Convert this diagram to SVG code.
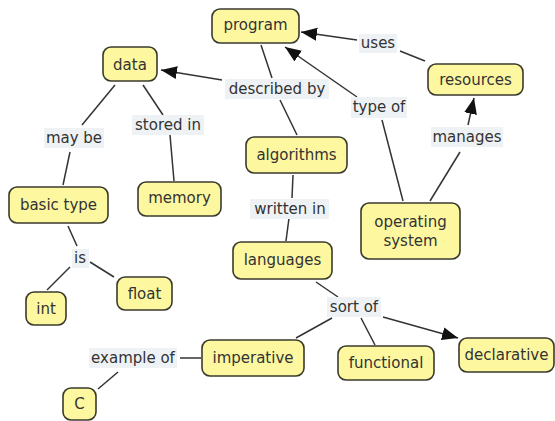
<svg xmlns="http://www.w3.org/2000/svg" width="555" height="421" viewBox="0 0 555 421">
  <style>
    .node rect { fill: #fdf8a0; stroke: #3a3a2c; stroke-width: 1.6; }
    text { font-family: "DejaVu Sans", Verdana, sans-serif; font-size: 15px; fill: #333; text-anchor: middle; }
    .lbl rect { fill: #eef2f5; stroke: none; }
    .conn line { stroke: #333; stroke-width: 1.5; fill: none; }
  </style>
  <defs>
    <marker id="arrow" markerUnits="userSpaceOnUse" markerWidth="17" markerHeight="14" refX="16" refY="6.5" orient="auto">
      <path d="M0,0 L16,6.5 L0,13 Z" fill="#111"/>
    </marker>
  </defs>
  <rect width="555" height="421" fill="#fff"/>

  <!-- connectors -->
  <g id="connectors" class="conn">
    <!-- program / algorithms -> described by -> data -->
    <line x1="261" y1="45" x2="272" y2="78"/>
    <line x1="280" y1="100" x2="297" y2="135"/>
    <line x1="222" y1="80" x2="161" y2="70" marker-end="url(#arrow)"/>
    <!-- resources -> uses -> program -->
    <line x1="425" y1="61" x2="400" y2="51"/>
    <line x1="357" y1="40" x2="301" y2="32" marker-end="url(#arrow)"/>
    <!-- operating system -> type of -> program -->
    <line x1="403" y1="201" x2="382" y2="120"/>
    <line x1="357" y1="97" x2="285" y2="47" marker-end="url(#arrow)"/>
    <!-- operating system -> manages -> resources -->
    <line x1="430" y1="201" x2="460" y2="152"/>
    <line x1="468" y1="125" x2="474" y2="98" marker-end="url(#arrow)"/>
    <!-- data -> may be -> basic type -->
    <line x1="115" y1="85" x2="82" y2="125"/>
    <line x1="70" y1="152" x2="63" y2="185"/>
    <!-- data -> stored in -> memory -->
    <line x1="143" y1="85" x2="163" y2="115"/>
    <line x1="170" y1="135" x2="174" y2="181"/>
    <!-- algorithms -> written in -> languages -->
    <line x1="293" y1="175" x2="292" y2="198"/>
    <line x1="289" y1="218" x2="286" y2="241"/>
    <!-- basic type -> is -> int / float -->
    <line x1="68" y1="226" x2="77" y2="246"/>
    <line x1="70" y1="267" x2="47" y2="290"/>
    <line x1="90" y1="262" x2="114" y2="277"/>
    <!-- languages -> sort of -> imperative / functional / declarative -->
    <line x1="316" y1="282" x2="338" y2="297"/>
    <line x1="332" y1="318" x2="296" y2="338"/>
    <line x1="361" y1="318" x2="375" y2="345"/>
    <line x1="383" y1="317" x2="458" y2="338" marker-end="url(#arrow)"/>
    <!-- imperative -> example of -> C -->
    <line x1="180" y1="358" x2="201" y2="358"/>
    <line x1="118" y1="372" x2="98" y2="389"/>
  </g>

  <!-- linking phrases -->
  <g id="lbl-described-by" class="lbl"><rect x="225" y="79" width="104" height="20"/><text x="277" y="94">described by</text></g>
  <g id="lbl-uses" class="lbl"><rect x="359" y="34" width="38" height="19"/><text x="378" y="48">uses</text></g>
  <g id="lbl-type-of" class="lbl"><rect x="351" y="97" width="56" height="21"/><text x="379" y="112">type of</text></g>
  <g id="lbl-manages" class="lbl"><rect x="431" y="127" width="72" height="20"/><text x="467" y="142">manages</text></g>
  <g id="lbl-may-be" class="lbl"><rect x="44" y="128" width="60" height="20"/><text x="74" y="143">may be</text></g>
  <g id="lbl-stored-in" class="lbl"><rect x="132" y="115" width="72" height="20"/><text x="168" y="130">stored in</text></g>
  <g id="lbl-written-in" class="lbl"><rect x="250" y="199" width="79" height="20"/><text x="290" y="214">written in</text></g>
  <g id="lbl-is" class="lbl"><rect x="72" y="249" width="17" height="19"/><text x="80" y="263">is</text></g>
  <g id="lbl-sort-of" class="lbl"><rect x="327" y="297" width="54" height="20"/><text x="354" y="312">sort of</text></g>
  <g id="lbl-example-of" class="lbl"><rect x="89" y="348" width="88" height="20"/><text x="133" y="363">example of</text></g>

  <!-- concepts -->
  <g id="program" class="node"><rect x="212" y="9" width="87" height="34" rx="8"/><text x="255.5" y="29.5">program</text></g>
  <g id="data" class="node"><rect x="103" y="47" width="54" height="34" rx="8"/><text x="130" y="70">data</text></g>
  <g id="basic-type" class="node"><rect x="9" y="187" width="99" height="36" rx="8"/><text x="58.5" y="210">basic type</text></g>
  <g id="memory" class="node"><rect x="138" y="182" width="83" height="34" rx="8"/><text x="179.5" y="203">memory</text></g>
  <g id="algorithms" class="node"><rect x="246" y="137" width="101" height="36" rx="8"/><text x="296.5" y="160">algorithms</text></g>
  <g id="resources" class="node"><rect x="428" y="64" width="95" height="31" rx="8"/><text x="475.5" y="84.5">resources</text></g>
  <g id="operating-system" class="node"><rect x="361" y="203" width="99" height="56" rx="8"/><text x="410.5" y="227">operating</text><text x="410.5" y="246">system</text></g>
  <g id="languages" class="node"><rect x="233" y="242" width="99" height="37" rx="8"/><text x="282.5" y="265">languages</text></g>
  <g id="int" class="node"><rect x="26" y="292" width="40" height="33" rx="8"/><text x="46" y="313.5">int</text></g>
  <g id="float" class="node"><rect x="117" y="277" width="55" height="33" rx="8"/><text x="144.5" y="298.5">float</text></g>
  <g id="c" class="node"><rect x="63" y="388" width="33" height="32" rx="8"/><text x="79.5" y="409">C</text></g>
  <g id="imperative" class="node"><rect x="202" y="340" width="102" height="36" rx="8"/><text x="253" y="363">imperative</text></g>
  <g id="functional" class="node"><rect x="338" y="346" width="96" height="34" rx="8"/><text x="386" y="368">functional</text></g>
  <g id="declarative" class="node"><rect x="459" y="338" width="95" height="34" rx="8"/><text x="506.5" y="360">declarative</text></g>
</svg>
